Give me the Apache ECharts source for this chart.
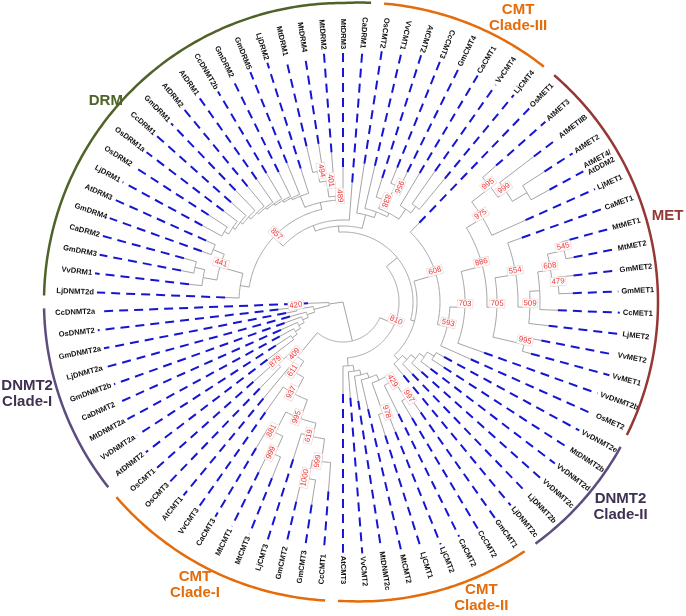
<!DOCTYPE html>
<html><head><meta charset="utf-8">
<script src="https://cdn.jsdelivr.net/npm/echarts@6/dist/echarts.min.js"></script>
<style>html,body{margin:0;padding:0;background:#fff}#c{width:686px;height:616px}</style>
</head><body><div id="c"></div>
<script>
// ---------------- data ----------------
const leaves = ['LjDNMT2d','VvDRM1','GmDRM3','CaDRM2','GmDRM4','AtDRM3','LjDRM1','OsDRM2','OsDRM1a','CcDRM1',
 'GmDRM1','AtDRM2','AtDRM1','CcDNMT2b','GmDRM2','GmDRM5','LjDRM2','MtDRM1','MtDRM4','MtDRM2',
 'MtDRM3','CaDRM1','OsCMT2','VvCMT1','AtCMT2','CcCMT3','GmCMT4','CaCMT1','VvCMT4','LjCMT4',
 'OsMET1','AtMET3','AtMETIIB','AtMET2','AtMET4/\nAtDDM2','LjMET1','CaMET1','MtMET1','MtMET2','GmMET2',
 'GmMET1','CcMET1','LjMET2','VvMET2','VvMET1','VvDNMT2b','OsMET2','VvDNMT2e','MtDNMT2b','VvDNMT2d',
 'VvDNMT2c','LjDNMT2b','LjDNMT2c','GmCMT1','CcCMT2','CaCMT2','LjCMT2','LjCMT1','MtCMT2','MtDNMT2c',
 'VvCMT2','AtCMT3','CcCMT1','GmCMT3','GmCMT2','LjCMT3','MtCMT3','MtCMT1','CaCMT3','VvCMT3',
 'AtCMT1','OsCMT3','OsCMT1','AtDNMT2','VvDNMT2a','MtDNMT2a','CaDNMT2','GmDNMT2b','LjDNMT2a','GmDNMT2a',
 'OsDNMT2','CcDNMT2a'];
// tip depth (distance of each leaf tip from the root)
const tipDepth = [118,155,165,165,150,150,160,160,150,150,
 155,150,150,150,145,150,140,160,160,150,
 135,120,140,140,130,145,145,150,160,160,
 110,205,240,240,235,200,190,235,235,232,
 230,215,207,202,195,150,140,115,120,110,
 105,100,95,135,135,125,140,140,110,100,
 96,92,190,205,205,165,190,190,170,135,
 125,120,120,95,80,72,68,62,55,58,
 65,35];
// tree: [node depth, bootstrap, ...children]; leaves referenced by name
const tree =
[0, null,
 [14, null, 'CcDNMT2a',
  [30, null,
   [47, 420, 'OsDNMT2', 'GmDNMT2a'],
   [38, null, 'LjDNMT2a',
    [44, null, 'GmDNMT2b',
     [50, null, 'CaDNMT2',
      [56, null, 'MtDNMT2a',
       [62, null, 'VvDNMT2a', 'AtDNMT2']]]]]]],
 [40, null,
  [71, 409,
   [90, 879, 'OsCMT1', 'OsCMT3'],
   [85, 611, 'AtCMT1',
    [104, 937, 'VvCMT3',
     [124, 995,
      [147, 881, 'CaCMT3', [167, 999, 'MtCMT1', 'MtCMT3']],
      [138, 619, 'LjCMT3', [161, 999, [180, 1000, 'GmCMT2', 'GmCMT3'], 'CcCMT1']]]]]],
  [56, 810,
   [70, null,
    [76, null,
     [82, null,
      [95, 857,
       [104, null, 'LjDNMT2d',
        [128, 441,
         [142, null, 'VvDRM1', [152, null, 'GmDRM3', 'CaDRM2']],
         [140, null, 'GmDRM4', 'AtDRM3']]],
       [102, null,
        [106, 489, [122, 401, [133, 494, 'MtDRM1', 'MtDRM4'], 'MtDRM2'], 'MtDRM3'],
        [114, null, 'LjDRM2',
         [116, null, 'GmDRM5',
          [118, null, 'GmDRM2',
           [120, null, 'CcDNMT2b',
            [122, null, 'AtDRM1',
             [124, null, 'AtDRM2',
              [127, null, 'GmDRM1',
               [130, null, 'CcDRM1',
                [133, null, 'OsDRM1a',
                 [138, null, 'OsDRM2', 'LjDRM1']]]]]]]]]]]],
      'CaDRM1'],
     [90, null, 'OsCMT2',
      [96, null, 'VvCMT1',
       [100, null,
        [110, 838, 'AtCMT2', [128, 956, 'CcCMT3', 'GmCMT4']],
        [112, null, 'CaCMT1', [120, null, 'VvCMT4', 'LjCMT4']]]]]],
    [74, null,
     [97, 608, 'OsMET1',
      [107, 593,
       [122, 703,
        [144, 886,
         [163, 975, [187, 995, 'AtMET3', [197, 999, 'AtMETIIB', [214, null, 'AtMET2', 'AtMET4/\nAtDDM2']]], 'LjMET1'],
         [154, 705,
          [175, 554, 'CaMET1', [187, 509, [197, null, [210, 608, [227, 545, 'MtMET1', 'MtMET2'], [216, 479, 'GmMET2', 'GmMET1']], 'CcMET1'], 'LjMET2']],
          [186, 995, 'VvMET2', 'VvMET1']]],
        'VvDNMT2b'],
       'OsMET2']],
     [80, null, [86, null, [92, null, [98, null, [106, null, 'VvDNMT2e', 'MtDNMT2b'], 'VvDNMT2d'], 'VvDNMT2c'], 'LjDNMT2b'], 'LjDNMT2c']]],
   [64, null, 'AtCMT3', [70, null, 'VvCMT2', [75, null, 'MtDNMT2c', [80, null, 'MtCMT2', [86, null, [118, 978, 'LjCMT1', 'LjCMT2'], [93, 429, 'CaCMT2', [115, 997, 'CcCMT2', 'GmCMT1']]]]]]]]]];

const cladeNames = ['DRM', 'CMT\nClade-III', 'MET', 'DNMT2\nClade-II', 'CMT\nClade-II', 'CMT\nClade-I', 'DNMT2\nClade-I'];
const cladeFirst = ['LjDNMT2d', 'OsCMT2', 'OsMET1', 'VvDNMT2e', 'GmCMT1', 'CcCMT1', 'AtDNMT2'];
const cladeLast  = ['CaDRM1', 'LjCMT4', 'OsMET2', 'LjDNMT2c', 'AtCMT3', 'OsCMT1', 'CcDNMT2a'];

// ---------------- layout / style ----------------
const CX = 343, CY = 302, RMAX = 360;
const START_ANGLE = 177.8;
const LAB_R0 = 268, LAB_RX = 27;      // label ring: r = R0 + RX*max(0,cos)
const CLADE_R0 = 299, CLADE_RX = 16;  // clade bar ring
const CLADE_PAD = 0.22;
const GRAY = '#a4a4a4', BLUE = '#1616d2', RED = '#f03535';
const FONT = '"Liberation Sans", Arial, sans-serif';
const LEAF_FONT = 'bold 7.6px ' + FONT;
const BOOT_FONT = '7.8px ' + FONT;
const cladeColor = ['#4f6228', '#e46c0a', '#953735', '#5e4c7e', '#e46c0a', '#e46c0a', '#5e4c7e'];
const cladeTextColor = ['#4f6228', '#e46c0a', '#953735', '#3f3151', '#e46c0a', '#e46c0a', '#3f3151'];
const cladeTitleAt = [[311, 8.68], [334, 27.2], [336, 37.1], [345, 48.8], [327, 55.3], [319, 67.3], [329, 77.8]];

// ---------------- build tree geometry (positions in leaf-index space) ----------------
const N = leaves.length;
const nodes = [];
function build(t) {
  if (typeof t === 'string') { const i = leaves.indexOf(t); return { leaf: i, r: tipDepth[i], pos: i }; }
  const kids = t.slice(2).map(build);
  const ps = kids.map(k => k.pos);
  const lo = Math.min(...ps), hi = Math.max(...ps);
  const n = { r: t[0], boot: t[1], kids, lo, hi, pos: (lo + hi) / 2 };
  nodes.push(n);
  return n;
}
build(tree);
const bootNodes = nodes.filter(n => n.boot !== null);

const cv = document.createElement('canvas').getContext('2d');
function textW(s, font) { cv.font = font; return Math.max(...s.split('\n').map(l => cv.measureText(l).width)); }

function dirAt(api, pos) {
  const c = api.coord([0, 0]), p = api.coord([100, pos]);
  const dx = (p[0] - c[0]) / 100, dy = (p[1] - c[1]) / 100;
  const th = Math.atan2(-dy, dx);
  const deg = th * 180 / Math.PI;
  const right = deg > -93 && deg < 65;
  return { c, dx, dy, th, rot: right ? th : th - Math.PI };
}
const labR = th => LAB_R0 + LAB_RX * Math.max(0, Math.cos(th));
const cladeR = th => CLADE_R0 + CLADE_RX * Math.max(0, Math.cos(th));

function branchItem(params, api) {
  const n = nodes[params.dataIndex];
  const ch = [];
  if (n.r > 0 && n.hi > n.lo) {
    const steps = Math.max(2, Math.ceil((n.hi - n.lo) * 6));
    const pts = [];
    for (let k = 0; k <= steps; k++) pts.push(api.coord([n.r, n.lo + (n.hi - n.lo) * k / steps]));
    ch.push({ type: 'polyline', shape: { points: pts }, style: { fill: null, stroke: GRAY, lineWidth: 1 } });
  }
  n.kids.forEach(k => {
    const a = api.coord([n.r, k.pos]), b = api.coord([k.r, k.pos]);
    ch.push({ type: 'line', shape: { x1: a[0], y1: a[1], x2: b[0], y2: b[1] }, style: { stroke: GRAY, lineWidth: 1 } });
  });
  return { type: 'group', children: ch };
}

function leafItem(params, api) {
  const i = params.dataIndex;
  const name = leaves[i];
  const w = textW(name, LEAF_FONT);
  const d = dirAt(api, i);
  const R = labR(d.th);
  const p = api.coord([R, i]);
  const a = api.coord([tipDepth[i], i]), b = api.coord([R - w / 2 - 3, i]);
  return { type: 'group', children: [
    { type: 'line', shape: { x1: a[0], y1: a[1], x2: b[0], y2: b[1] }, style: { stroke: BLUE, lineWidth: 2, lineDash: [9, 6] } },
    { type: 'text', x: p[0], y: p[1], rotation: d.rot,
      style: { text: name, font: LEAF_FONT, fill: '#111', align: 'center', verticalAlign: 'middle', lineHeight: 8 } }
  ]};
}

function bootItem(params, api) {
  const n = bootNodes[params.dataIndex];
  const s = String(n.boot);
  const d = dirAt(api, n.pos);
  const p = api.coord([n.r, n.pos]);
  const ux = -Math.sin(d.rot), uy = -Math.cos(d.rot);
  return { type: 'text', x: p[0] + ux * 4, y: p[1] + uy * 4, rotation: d.rot,
    style: { text: s, font: BOOT_FONT, fill: RED, align: 'center', verticalAlign: 'middle',
      backgroundColor: '#fff', borderColor: '#ecd2d2', borderWidth: 0.6, padding: [0, 1] } };
}

function cladeItem(params, api) {
  const k = params.dataIndex;
  const lo = leaves.indexOf(cladeFirst[k]) - CLADE_PAD, hi = leaves.indexOf(cladeLast[k]) + CLADE_PAD;
  const pts = [];
  const steps = Math.ceil((hi - lo) * 6);
  for (let s = 0; s <= steps; s++) {
    const pos = lo + (hi - lo) * s / steps;
    pts.push(api.coord([cladeR(dirAt(api, pos).th), pos]));
  }
  const t = api.coord(cladeTitleAt[k]);
  return { type: 'group', children: [
    { type: 'polyline', shape: { points: pts }, style: { fill: null, stroke: cladeColor[k], lineWidth: 2.5 } },
    { type: 'text', x: t[0], y: t[1],
      style: { text: cladeNames[k], font: 'bold 15px ' + FONT, fill: cladeTextColor[k], align: 'center', verticalAlign: 'middle', lineHeight: 16 } }
  ]};
}

const chart = echarts.init(document.getElementById('c'));
chart.setOption({
  animation: false,
  backgroundColor: '#fff',
  polar: { center: [CX, CY], radius: RMAX },
  angleAxis: { type: 'value', min: 0, max: N, startAngle: START_ANGLE, clockwise: true, show: false },
  radiusAxis: { type: 'value', min: 0, max: RMAX, show: false },
  series: [
    { type: 'custom', coordinateSystem: 'polar', z: 1, silent: true, renderItem: branchItem, data: nodes.map(n => [n.r, n.pos]) },
    { type: 'custom', coordinateSystem: 'polar', z: 2, silent: true, renderItem: leafItem, data: leaves.map((l, i) => [tipDepth[i], i]) },
    { type: 'custom', coordinateSystem: 'polar', z: 3, silent: true, renderItem: bootItem, data: bootNodes.map(n => [n.r, n.pos]) },
    { type: 'custom', coordinateSystem: 'polar', z: 4, silent: true, renderItem: cladeItem, data: cladeNames.map((c, k) => [CLADE_R0, leaves.indexOf(cladeFirst[k])]) }
  ]
});
</script></body></html>
